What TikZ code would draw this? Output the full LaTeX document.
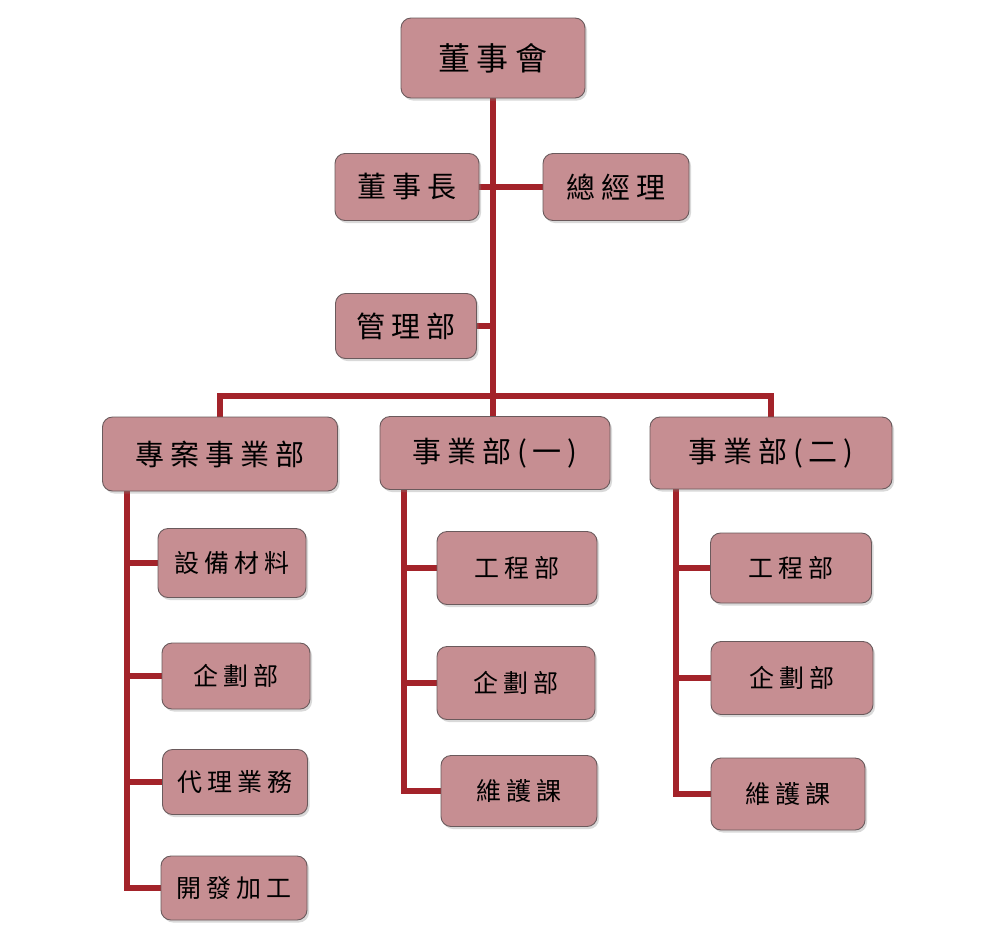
\documentclass[tikz,border=0pt]{standalone}
\usepackage{fontspec}
\usepackage{tikz}
\usetikzlibrary{shadows,backgrounds}
\newfontfamily\cjk[LetterSpace=20]{Noto Sans CJK TC}

\definecolor{boxfill}{HTML}{C68E92}
\definecolor{linkred}{HTML}{A3232A}
\definecolor{boxedge}{HTML}{6A5A5C}

\begin{document}
\begin{tikzpicture}[x=1pt,y=-1pt,
    unit/.style={draw=boxedge,line width=0.9pt,fill=boxfill,rounded corners=10pt,
      drop shadow={shadow xshift=2pt,shadow yshift=-2.5pt,opacity=0.3},
      inner sep=0pt,align=center,font=\cjk},
    big/.style={font=\cjk\fontsize{32}{32}\selectfont},
    mid/.style={font=\cjk\fontsize{29}{29}\selectfont},
    small/.style={font=\cjk\fontsize{25}{25}\selectfont},
    link/.style={draw=linkred,line width=5.5pt}]
  % org chart: board, officers, three divisions with their sections

  \useasboundingbox (0,0) rectangle (996,943);

  \coordinate (hub) at (493,396);
  \coordinate (pline) at (127,0);
  \coordinate (aline) at (404,0);
  \coordinate (bline) at (676,0);

  % top part
  \node[unit,big,minimum width=184pt,minimum height=80pt] (board) at (493,58) {董事會};
  \node[unit,mid,minimum width=144pt,minimum height=67pt] (chair) at (407,187) {董事長};
  \node[unit,mid,minimum width=146pt,minimum height=67pt] (gm) at (616,187) {總經理};
  \node[unit,mid,minimum width=141pt,minimum height=65pt] (admin) at (406,326) {管理部};

  % divisions
  \node[unit,mid,minimum width=235pt,minimum height=74pt] (proj) at (220,454) {專案事業部};
  \node[unit,mid,minimum width=230pt,minimum height=73pt] (diva) at (495,453) {事業部(一)};
  \node[unit,mid,minimum width=242pt,minimum height=72pt] (divb) at (771,453) {事業部(二)};

  % sections under 專案事業部
  \node[unit,small,minimum width=148pt,minimum height=69pt] (p1) at (232,563) {設備材料};
  \node[unit,small,minimum width=148pt,minimum height=66pt] (p2) at (236,676) {企劃部};
  \node[unit,small,minimum width=145pt,minimum height=65pt] (p3) at (235,782) {代理業務};
  \node[unit,small,minimum width=146pt,minimum height=64pt] (p4) at (234,888) {開發加工};

  % sections under 事業部(一)
  \node[unit,small,minimum width=160pt,minimum height=73pt] (a1) at (517,568) {工程部};
  \node[unit,small,minimum width=158pt,minimum height=73pt] (a2) at (516,683) {企劃部};
  \node[unit,small,minimum width=156pt,minimum height=71pt] (a3) at (519,791) {維護課};

  % sections under 事業部(二)
  \node[unit,small,minimum width=161pt,minimum height=70pt] (b1) at (791,568) {工程部};
  \node[unit,small,minimum width=162pt,minimum height=73pt] (b2) at (792,678) {企劃部};
  \node[unit,small,minimum width=154pt,minimum height=72pt] (b3) at (788,794) {維護課};

  % connectors behind the boxes
  \begin{pgfonlayer}{background}
    \draw[link] (board.south) -- (hub);
    \draw[link] (chair.east) -- (gm.west);
    \draw[link] (admin.east) -- (admin.east -| hub);
    \draw[link] (proj.north) |- (hub) -| (divb.north);
    \draw[link] (hub) -- (hub |- diva.north);

    \draw[link] (proj.south -| pline) |- (p4.west);
    \foreach \n in {p1,p2,p3}
      \draw[link] (\n.west) -- (\n.west -| pline);

    \draw[link] (diva.south -| aline) |- (a3.west);
    \foreach \n in {a1,a2}
      \draw[link] (\n.west) -- (\n.west -| aline);

    \draw[link] (divb.south -| bline) |- (b3.west);
    \foreach \n in {b1,b2}
      \draw[link] (\n.west) -- (\n.west -| bline);
  \end{pgfonlayer}
\end{tikzpicture}
\end{document}
